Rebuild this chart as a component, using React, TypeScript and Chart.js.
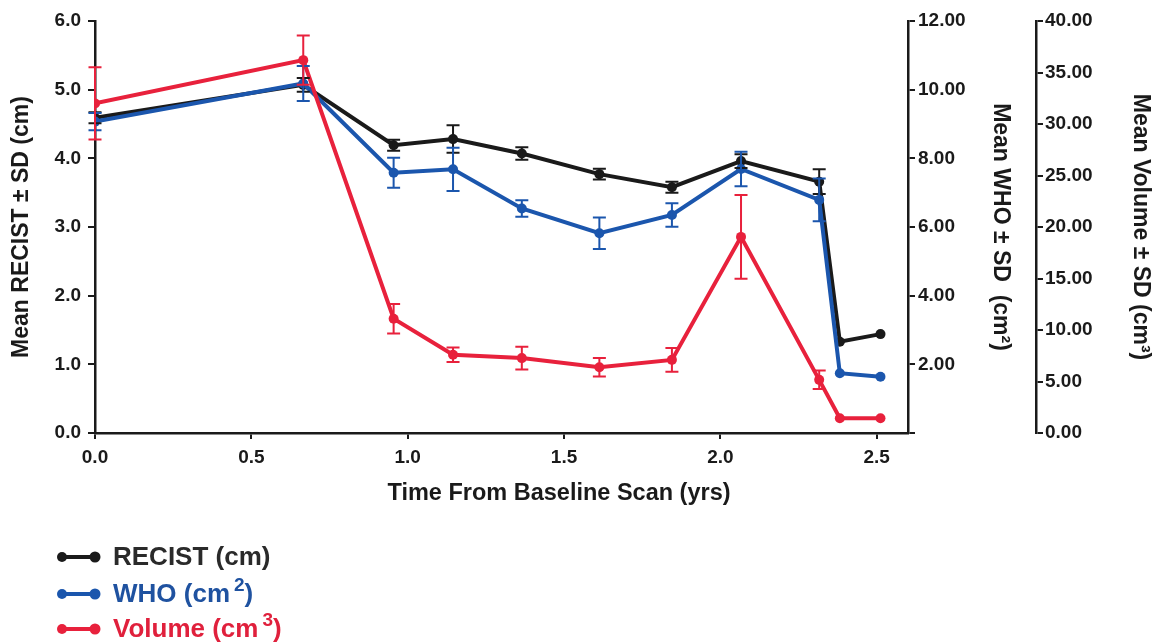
import React, { useEffect, useRef } from 'react';
import { Chart, registerables } from 'chart.js';

Chart.register(...registerables);

// ---- data ----
const years = [0, 0.666, 0.955, 1.145, 1.365, 1.613, 1.845, 2.066, 2.316, 2.382, 2.512];
const recist = [4.59, 5.07, 4.19, 4.28, 4.07, 3.77, 3.58, 3.96, 3.66, 1.33, 1.44];
const recistSD = [0.08, 0.1, 0.08, 0.2, 0.09, 0.08, 0.08, 0.1, 0.18, 0, 0];
const who = [9.07, 10.18, 7.58, 7.68, 6.54, 5.82, 6.35, 7.69, 6.79, 1.74, 1.64];
const whoSD = [0.25, 0.51, 0.44, 0.63, 0.24, 0.46, 0.34, 0.5, 0.62, 0, 0];
const volume = [32.0, 36.2, 11.1, 7.59, 7.27, 6.39, 7.1, 19.04, 5.16, 1.43, 1.43];
const volumeSD = [3.5, 2.4, 1.43, 0.7, 1.1, 0.9, 1.15, 4.06, 0.9, 0, 0];

const xTitle = 'Time From Baseline Scan (yrs)';
const recistTitle = 'Mean RECIST ± SD (cm)';
const whoTitle = 'Mean WHO ± SD  (cm²)';
const volumeTitle = 'Mean Volume ± SD (cm³)';

const BLACK = '#1a1a1a';
const BLUE = '#1b56ad';
const RED = '#e8213c';
const FONT = "'Liberation Sans', Arial, sans-serif";

const toPoints = (vals: number[]) => vals.map((v, i) => ({ x: years[i], y: v }));

const errorSets: Record<string, number[]> = {
  RECIST: recistSD,
  WHO: whoSD,
  Volume: volumeSD,
};

const errorBarPlugin = {
  id: 'errorBars',
  afterDatasetsDraw(chart: any) {
    const ctx = chart.ctx;
    const idxs = chart.data.datasets.map((_: any, i: number) => i);
    idxs.sort((a: number, b: number) => (chart.data.datasets[b].order || 0) - (chart.data.datasets[a].order || 0));
    idxs.forEach((i: number) => {
      const ds = chart.data.datasets[i];
      const errs = errorSets[ds.label];
      if (!errs) return;
      const meta = chart.getDatasetMeta(i);
      const yScale = chart.scales[ds.yAxisID];
      ctx.save();
      ctx.strokeStyle = ds.borderColor;
      ctx.lineWidth = 2;
      meta.data.forEach((pt: any, j: number) => {
        const e = errs[j];
        if (!e) return;
        const v = ds.data[j].y;
        const yTop = yScale.getPixelForValue(v + e);
        const yBot = yScale.getPixelForValue(v - e);
        const x = pt.x;
        const w = 6.5;
        ctx.beginPath();
        ctx.moveTo(x, yTop);
        ctx.lineTo(x, yBot);
        ctx.moveTo(x - w, yTop);
        ctx.lineTo(x + w, yTop);
        ctx.moveTo(x - w, yBot);
        ctx.lineTo(x + w, yBot);
        ctx.stroke();
      });
      ctx.restore();
    });
  },
};

const tickFont = { family: FONT, size: 19, weight: 'bold' as const };
const titleFont = { family: FONT, size: 23, weight: 'bold' as const };
const gridOpts = { drawOnChartArea: false, drawTicks: true, tickLength: 7, color: BLACK, lineWidth: 2 };
const borderOpts = { display: true, color: BLACK, width: 2.5 };

export default function App() {
  const canvasRef = useRef<HTMLCanvasElement | null>(null);

  useEffect(() => {
    const canvas = canvasRef.current;
    if (!canvas) return;
    const mk = (label: string, vals: number[], color: string, axis: string, order: number) => ({
      label,
      data: toPoints(vals),
      yAxisID: axis,
      borderColor: color,
      backgroundColor: color,
      pointBackgroundColor: color,
      pointBorderColor: color,
      pointRadius: 5,
      pointBorderWidth: 0,
      borderWidth: 4,
      tension: 0,
      order,
    });
    const chart = new Chart(canvas, {
      type: 'line',
      data: {
        datasets: [
          mk('RECIST', recist, BLACK, 'y', 3),
          mk('WHO', who, BLUE, 'who', 2),
          mk('Volume', volume, RED, 'vol', 1),
        ],
      },
      options: {
        responsive: false,
        animation: false,
        layout: { padding: { top: 21, left: 0, right: 0, bottom: 171 } },
        plugins: {
          legend: { display: false },
          tooltip: { enabled: false },
        },
        scales: {
          x: {
            type: 'linear',
            position: 'bottom',
            min: 0,
            max: 2.6,
            ticks: {
              stepSize: 0.5,
              includeBounds: false,
              autoSkip: false,
              maxRotation: 0,
              padding: 7,
              color: BLACK,
              font: tickFont,
              callback: (v: any) => Number(v).toFixed(1),
            },
            grid: { ...gridOpts, tickLength: 6 },
            border: borderOpts,
            afterFit: (s: any) => {
              s.height = 40;
            },
          },
          y: {
            type: 'linear',
            position: 'left',
            min: 0,
            max: 6,
            ticks: {
              stepSize: 1,
              padding: 7,
              color: BLACK,
              font: tickFont,
              callback: (v: any) => Number(v).toFixed(1),
            },
            grid: gridOpts,
            border: borderOpts,
            title: { display: true, text: recistTitle, color: BLACK, font: titleFont, padding: { top: 8, bottom: 0 } },
            afterFit: (s: any) => {
              s.width = 95;
            },
          },
          who: {
            type: 'linear',
            position: 'right',
            weight: 0,
            min: 0,
            max: 12,
            ticks: {
              stepSize: 2,
              padding: 3,
              color: BLACK,
              font: tickFont,
              callback: (v: any) => (Number(v) === 0 ? '' : Number(v).toFixed(2)),
            },
            grid: gridOpts,
            border: borderOpts,
            title: { display: true, text: whoTitle, color: BLACK, font: titleFont, padding: { top: 22, bottom: 0 } },
            afterFit: (s: any) => {
              s.width = 128;
            },
          },
          vol: {
            type: 'linear',
            position: 'right',
            weight: 1,
            min: 0,
            max: 40,
            ticks: {
              stepSize: 5,
              padding: 2,
              color: BLACK,
              font: tickFont,
              callback: (v: any) => Number(v).toFixed(2),
            },
            grid: gridOpts,
            border: borderOpts,
            title: { display: true, text: volumeTitle, color: BLACK, font: titleFont, padding: { top: 5, bottom: 0 } },
            afterFit: (s: any) => {
              s.width = 123;
            },
          },
        },
      } as any,
      plugins: [errorBarPlugin],
    });
    return () => chart.destroy();
  }, []);

  const legendItems = [
    { label: 'RECIST (cm)', sup: '', color: BLACK, text: '#2a2a2a', top: 543 },
    { label: 'WHO (cm', sup: '2', color: BLUE, text: '#1f52a0', top: 580 },
    { label: 'Volume (cm', sup: '3', color: RED, text: '#e0203c', top: 615 },
  ];

  return (
    <div style={{ position: 'fixed', left: 0, top: 0, width: 1159, height: 644, background: '#fff', overflow: 'hidden' }}>
      <canvas ref={canvasRef} width={1159} height={644} style={{ display: 'block', position: 'absolute', left: 0, top: 0 }} />
      <div
        style={{
          position: 'absolute',
          left: 559,
          top: 481,
          transform: 'translateX(-50%)',
          whiteSpace: 'nowrap',
          fontFamily: FONT,
          fontWeight: 'bold',
          fontSize: 23.5,
          lineHeight: '23px',
          color: BLACK,
        }}
      >
        {xTitle}
      </div>
      {legendItems.map((it) => (
        <div key={it.label} style={{ position: 'absolute', left: 0, top: it.top, height: 26 }}>
          <svg width={110} height={30} style={{ position: 'absolute', left: 0, top: 0 }}>
            <line x1={62} y1={14} x2={95} y2={14} stroke={it.color} strokeWidth={4} />
            <circle cx={62} cy={14} r={5} fill={it.color} />
            <circle cx={95} cy={14} r={5.5} fill={it.color} />
          </svg>
          <div
            style={{
              position: 'absolute',
              left: 113,
              top: 0,
              whiteSpace: 'nowrap',
              fontFamily: FONT,
              fontWeight: 'bold',
              fontSize: 26,
              lineHeight: '26px',
              color: it.text,
            }}
          >
            {it.label}
            {it.sup ? (
              <span style={{ fontSize: 19, position: 'relative', top: -11, marginLeft: 4 }}>{it.sup}</span>
            ) : null}
            {it.sup ? ')' : ''}
          </div>
        </div>
      ))}
    </div>
  );
}
